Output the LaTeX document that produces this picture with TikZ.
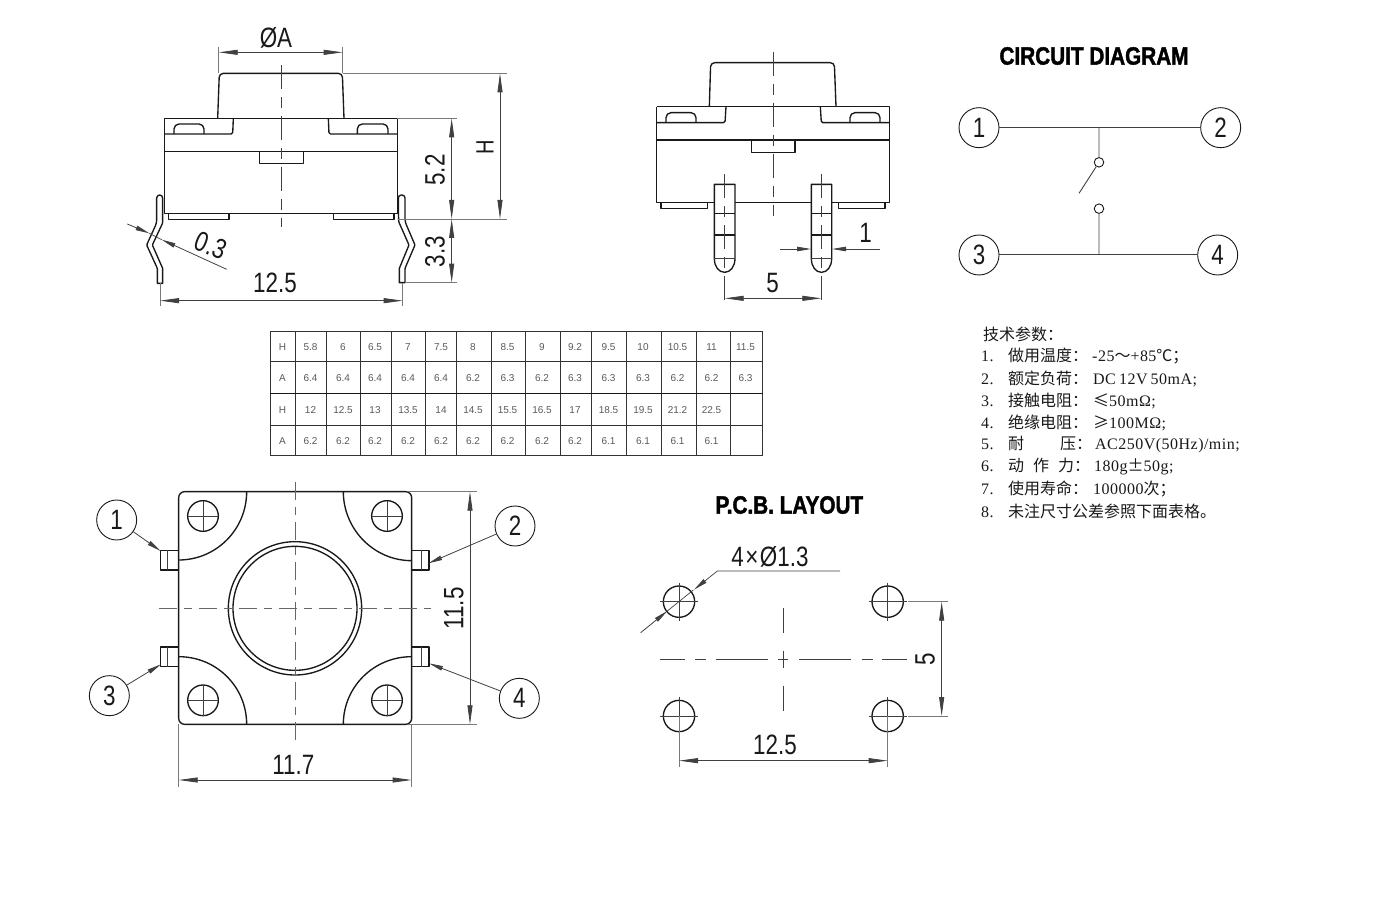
\documentclass[tikz,border=0pt]{standalone}
\usepackage{fontspec}
\usetikzlibrary{arrows.meta}
\newfontfamily\dimf[FakeStretch=0.8]{Liberation Sans}
\newfontfamily\titlef[FakeStretch=0.83,FakeBold=1.6]{Liberation Sans}
\newfontfamily\tabf{Liberation Sans}
\newfontfamily\cjk{Noto Sans CJK SC}
\newfontfamily\monof[LetterSpace=3,WordSpace=0.7]{Liberation Serif}
\definecolor{ink}{gray}{0.1}
\definecolor{thinink}{gray}{0.25}
\tikzset{
  part/.style={draw=ink,line width=1.35pt,line join=round},
  thinpart/.style={draw=thinink,line width=0.7pt},
  axis/.style={draw=thinink,line width=0.8pt,dash pattern=on 24pt off 8pt on 11pt off 8pt},
  axisb/.style={draw=thinink!80,line width=1pt,dash pattern=on 18pt off 7pt on 8pt off 7pt},
  extline/.style={draw=thinink!70,line width=0.8pt},
  dimline/.style={draw=thinink,line width=0.8pt,{Stealth[length=19pt,width=5pt,inset=0pt]}-{Stealth[length=19pt,width=5pt,inset=0pt]}},
  oneway/.style={draw=thinink,line width=0.8pt,-{Stealth[length=14pt,width=4.5pt,inset=0pt]}},
  dimtext/.style={inner sep=0pt,text=ink,font=\dimf\fontsize{28}{30}\selectfont},
  numc/.style={circle,draw=ink,line width=0.9pt,minimum size=40pt,inner sep=0pt,text=ink,font=\dimf\fontsize{28}{30}\selectfont},
  titletext/.style={inner sep=0pt,text=black,font=\titlef\bfseries\fontsize{25}{27}\selectfont},
  tabtext/.style={inner sep=0pt,text=black!65,font=\tabf\fontsize{10}{12}\selectfont},
  spec/.style={anchor=west,inner sep=0pt,text=ink,font=\cjk\fontsize{16}{18}\selectfont},
  wire/.style={draw=thinink,line width=1pt},
  swpin/.style={circle,draw=ink,line width=0.9pt,minimum size=9.5pt,inner sep=0pt},
}
\newcommand\mo[1]{{\monof #1}}
\newcommand\numb[1]{\makebox[27pt][l]{\monof #1}}
\begin{document}
\begin{tikzpicture}[x=1pt,y=-1pt]
\useasboundingbox (0,0) rectangle (1396,909);

% ---------- left side view
\begin{scope}[shift={(120,20)},scale=1/3]
\draw[part,rounded corners=4pt] (293,295) -- (298,160) -- (667,160) -- (672,295);
\draw[part] (133,295) rectangle (832,580);
\draw[part,rounded corners=1.5pt] (133,342) -- (338,342) -- (340,295);
\draw[part,rounded corners=1.5pt] (832,342) -- (627,342) -- (625,295);
\draw[part] (133,394) -- (832,394);
\draw[part] (418,394) -- (418,430) -- (550,430) -- (550,394);
\draw[part,rounded corners=5pt] (162,342) -- (162,312) -- (252,312) -- (252,342);
\draw[part,rounded corners=5pt] (712,342) -- (712,312) -- (804,312) -- (804,342);
\draw[part] (145,580) -- (145,598) -- (327,598) -- (327,580);
\draw[part] (640,580) -- (640,598) -- (822,598) -- (822,580);
\draw[axis] (483,135) -- (483,620);
% leads
\draw[part,rounded corners=3pt] (128,560) -- (128,525) -- (110,525) -- (110,609)
  [rounded corners=1pt] -- (80,675) -- (112,745) [sharp corners] -- (112,790) -- (128,790) -- (128,745)
  [rounded corners=1pt] -- (97,675) -- (128,609) [sharp corners] -- (128,560);
\draw[part,rounded corners=3pt] (835,560) -- (835,525) -- (855,525) -- (855,605)
  [rounded corners=1pt] -- (885,675) -- (855,745) [sharp corners] -- (855,788) -- (838,788) -- (838,745)
  [rounded corners=1pt] -- (867,675) -- (836,605) [sharp corners] -- (835,560);
% dimensions
\draw[extline] (296,80) -- (296,160);
\draw[extline] (668,80) -- (668,160);
\draw[dimline] (296,97) -- (668,97);
\node[dimtext] (dA) at (468,55) {ØA};
\draw[extline] (668,160) -- (1162,160);
\draw[extline] (835,597) -- (1162,597);
\draw[dimline] (1140,160) -- (1140,597);
\node[dimtext,rotate=90,font=\dimf\fontsize{25}{27}\selectfont] (dH) at (1095,383) {H};
\draw[extline] (832,295) -- (1012,295);
\draw[extline] (855,788) -- (1012,788);
\draw[dimline] (995,295) -- (995,597);
\draw[dimline] (995,597) -- (995,788);
\node[dimtext,rotate=90] (d52) at (945,450) {5.2};
\node[dimtext,rotate=90] (d33) at (945,695) {3.3};
\draw[extline] (120,790) -- (120,857);
\draw[extline] (848,790) -- (848,857);
\draw[dimline] (120,842) -- (848,842);
\node[dimtext] (d125a) at (465,790) {12.5};
\coordinate (p03a) at (22,612);
\coordinate (p03b) at (320,748);
\coordinate (p03c) at (88,640);
\coordinate (p03d) at (125,659);
\draw[oneway] (p03a) -- (p03c);
\draw[oneway] (p03b) -- (p03d);
\draw[thinpart] (p03c) -- (p03d);
\node[dimtext,rotate=-22] (d03) at (273,676) {0.3};
\end{scope}

% ---------- right side view
\begin{scope}[shift={(630,40)},scale=1/3]
\draw[part,rounded corners=4pt] (238,200) -- (242,68) -- (613,68) -- (618,200);
\draw[part] (80,200) -- (778,200) -- (778,487) -- (605,487);
\draw[part] (80,200) -- (80,487) -- (253,487);
\draw[part] (315,487) -- (544,487);
\draw[part,rounded corners=1.5pt] (80,248) -- (285,248) -- (288,200);
\draw[part,rounded corners=1.5pt] (778,248) -- (574,248) -- (571,200);
\draw[part] (80,300) -- (778,300);
\draw[part] (365,300) -- (365,337) -- (495,337) -- (495,300);
\draw[part,rounded corners=5pt] (108,248) -- (108,218) -- (198,218) -- (198,248);
\draw[part,rounded corners=5pt] (660,248) -- (660,218) -- (750,218) -- (750,248);
\draw[part] (93,487) -- (93,506) -- (232,506) -- (232,487);
\draw[part] (625,487) -- (625,506) -- (765,506) -- (765,487);
\draw[axis] (430,35) -- (430,528);
\foreach \lx/\rx in {253/315,544/605}{
  \draw[part] (\lx,655) -- (\lx,433) -- (\rx,433) -- (\rx,655)
     .. controls (\rx,680) and ({\lx+48},697) .. ({(\lx+\rx)/2},697)
     .. controls ({\lx+13},697) and (\lx,680) .. (\lx,655) -- cycle;
  \draw[part] (\lx,520) -- (\rx,520);
  \draw[part] (\lx,585) -- (\rx,585);
  \draw[thinpart] (\lx,655) -- (\rx,655);
}
\draw[axis] (284,403) -- (284,795);
\draw[axis] (574,403) -- (574,795);
\draw[dimline] (284,775) -- (574,775);
\node[dimtext] (d5a) at (428,730) {5};
\coordinate (p1a) at (450,627);
\coordinate (p1b) at (543,627);
\coordinate (p1c) at (750,627);
\coordinate (p1d) at (606,627);
\draw[oneway] (p1a) -- (p1b);
\draw[oneway] (p1c) -- (p1d);
\node[dimtext] (d1) at (707,578) {1};
\end{scope}

% ---------- circuit diagram
\begin{scope}[shift={(950,30)},scale=1/3]
\node[titletext] (tcirc) at (432,78) {CIRCUIT DIAGRAM};
\node[numc] (c1) at (87,293) {1};
\node[numc] (c2) at (812,293) {2};
\node[numc] (c3) at (87,675) {3};
\node[numc] (c4) at (803,675) {4};
\draw[wire] (c1) -- (c2);
\draw[wire] (c3) -- (c4);
\node[swpin] (sw1) at (447,397) {};
\node[swpin] (sw2) at (447,536) {};
\coordinate (j1) at (447,293);
\coordinate (j2) at (447,675);
\coordinate (blade) at (387,490);
\draw[wire,line width=0.9pt] (j1) -- (sw1);
\draw[wire,line width=0.9pt] (sw2) -- (j2);
\draw[wire,line width=0.9pt] (sw1) -- (blade);
\end{scope}

% ---------- specification
\node[spec] (s0) at (983,334) {技术参数：};
\node[spec] (s1) at (981,356.5) {\numb{1.}做用温度：\hspace{4pt}\mo{-25}～\mo{+85}℃；};
\node[spec] (s2) at (981,378.5) {\numb{2.}额定负荷：\hspace{5pt}\mo{DC 12V 50mA;}};
\node[spec] (s3) at (981,401) {\numb{3.}接触电阻：\hspace{5pt}≤\mo{50mΩ;}};
\node[spec] (s4) at (981,423) {\numb{4.}绝缘电阻：\hspace{5pt}≥\mo{100MΩ;}};
\node[spec] (s5) at (981,445) {\numb{5.}耐\hspace{36pt}压：\hspace{3pt}\mo{AC250V(50Hz)/min;}};
\node[spec] (s6) at (981,467) {\numb{6.}动\hspace{9pt}作\hspace{9pt}力：\hspace{4pt}\mo{180g}±\mo{50g;}};
\node[spec] (s7) at (981,489) {\numb{7.}使用寿命：\hspace{5pt}\mo{100000}次；};
\node[spec] (s8) at (981,511) {\numb{8.}未注尺寸公差参照下面表格。};

% ---------- table
\foreach \x in {270,295,326.7,360,391.7,425,456.7,491.7,525,560,591.7,626.7,661.7,696.7,730,762.7}
  \draw[draw=black!80,line width=0.9pt] (\x,331.7) -- (\x,455.3);
\foreach \y in {331.7,361.7,425,455}
  \draw[draw=black!80,line width=0.9pt] (270,\y) -- (762.7,\y);
\draw[draw=black!90,line width=1.5pt] (270,393.3) -- (762.7,393.3);
\foreach \t [count=\i] in {H,5.8,6,6.5,7,7.5,8,8.5,9,9.2,9.5,10,10.5,11,11.5}{
  \pgfmathsetmacro\cx{{282.5,310.5,343,375,408,441,473,507.5,542,575,608.5,643,677.5,711.5,745.5}[\i-1]}
  \node[tabtext] (ra\i) at (\cx,347) {\t};
}
\foreach \t [count=\i] in {A,6.4,6.4,6.4,6.4,6.4,6.2,6.3,6.2,6.3,6.3,6.3,6.2,6.2,6.3}{
  \pgfmathsetmacro\cx{{282.5,310.5,343,375,408,441,473,507.5,542,575,608.5,643,677.5,711.5,745.5}[\i-1]}
  \node[tabtext] (rb\i) at (\cx,378) {\t};
}
\foreach \t [count=\i] in {H,12,12.5,13,13.5,14,14.5,15.5,16.5,17,18.5,19.5,21.2,22.5}{
  \pgfmathsetmacro\cx{{282.5,310.5,343,375,408,441,473,507.5,542,575,608.5,643,677.5,711.5,745.5}[\i-1]}
  \node[tabtext] (rc\i) at (\cx,410) {\t};
}
\foreach \t [count=\i] in {A,6.2,6.2,6.2,6.2,6.2,6.2,6.2,6.2,6.2,6.1,6.1,6.1,6.1}{
  \pgfmathsetmacro\cx{{282.5,310.5,343,375,408,441,473,507.5,542,575,608.5,643,677.5,711.5,745.5}[\i-1]}
  \node[tabtext] (rd\i) at (\cx,441) {\t};
}

% ---------- top view
\begin{scope}[shift={(80,475)},scale=1/3]
\draw[part,rounded corners=6pt] (296,50) rectangle (995,748);
% corner arcs
\draw[part] (500,50) .. controls (500,163) and (409,255) .. (296,255);
\draw[part] (790,50) .. controls (790,163) and (882,257) .. (995,257);
\draw[part] (296,545) .. controls (409,545) and (500,635) .. (500,748);
\draw[part] (790,748) .. controls (790,635) and (882,545) .. (995,545);
\foreach \cx/\cy in {369/123,921/123,369/676,921/676}{
  \draw[part] (\cx,\cy) circle[radius=46pt];
  \draw[thinpart] ({\cx-46},\cy) -- ({\cx+46},\cy);
  \draw[thinpart] (\cx,{\cy-46}) -- (\cx,{\cy+46});
}
\draw[part] (645,400) circle[radius=200pt];
\draw[part] (645,400) circle[radius=186pt];
\draw[axisb] (237,400) -- (1052,400);
\draw[axisb] (645,22) -- (645,808);
\foreach \ya/\yb in {226/285,516/575}{
  \draw[part] (296,\ya) -- (241,\ya) -- (241,\yb) -- (296,\yb);
  \draw[thinpart] (262,\ya) -- (262,\yb);
  \draw[part] (995,\ya) -- (1047,\ya) -- (1047,\yb) -- (995,\yb);
  \draw[thinpart] (1023,\ya) -- (1023,\yb);
}
\node[numc] (n1) at (110,135) {1};
\node[numc] (n2) at (1305,153) {2};
\node[numc] (n3) at (88,662) {3};
\node[numc] (n4) at (1318,670) {4};
\coordinate (t1) at (242,228);
\coordinate (t2) at (1045,265);
\coordinate (t3) at (243,568);
\coordinate (t4) at (1047,565);
\draw[oneway] (n1) -- (t1);
\draw[oneway] (n2) -- (t2);
\draw[oneway] (n3) -- (t3);
\draw[oneway] (n4) -- (t4);
\draw[extline] (985,50) -- (1190,50);
\draw[extline] (985,748) -- (1190,748);
\draw[dimline] (1170,50) -- (1170,748);
\node[dimtext,rotate=90] (d115) at (1122,400) {11.5};
\draw[extline] (296,748) -- (296,935);
\draw[extline] (995,748) -- (995,935);
\draw[dimline] (296,915) -- (995,915);
\node[dimtext] (d117) at (640,870) {11.7};
\end{scope}

% ---------- PCB layout
\begin{scope}[shift={(630,480)},scale=1/3]
\node[titletext] (tpcb) at (478,75) {P.C.B. LAYOUT};
\foreach \cx/\cy in {147/365,773/365,147/708,773/708}{
  \draw[part] (\cx,\cy) circle[radius=47pt];
  \draw[thinpart] ({\cx-57},\cy) -- ({\cx+57},\cy);
  \draw[thinpart] (\cx,{\cy-57}) -- (\cx,{\cy+57});
}
\foreach \a/\b in {90/165,195/228,258/413,445/475,507/662,695/728,757/830}
  \draw[thinpart] (\a,537) -- (\b,537);
\foreach \a/\b in {383/458,512/565,617/692}
  \draw[thinpart] (460,\a) -- (460,\b);
\node[dimtext] (dh) at (420,230) {4\hspace{1.5pt}×\hspace{1.5pt}Ø1.3};
\coordinate (la) at (630,273);
\coordinate (lb) at (262,273);
\coordinate (lc) at (192,329);
\coordinate (ld) at (32,458);
\coordinate (le) at (112,393);
\draw[thinpart,-{Stealth[length=14pt,width=4.5pt,inset=0pt]}] (la) -- (lb) -- (lc);
\draw[oneway] (ld) -- (le);
\draw[thinpart] (le) -- (190,330);
\draw[extline] (835,365) -- (955,365);
\draw[extline] (835,708) -- (955,708);
\draw[dimline] (935,365) -- (935,708);
\node[dimtext,rotate=90] (d5b) at (885,537) {5};
\draw[extline] (147,708) -- (147,860);
\draw[extline] (773,708) -- (773,860);
\draw[dimline] (147,842) -- (773,842);
\node[dimtext] (d125b) at (435,795) {12.5};
\end{scope}
\end{tikzpicture}
\end{document}
